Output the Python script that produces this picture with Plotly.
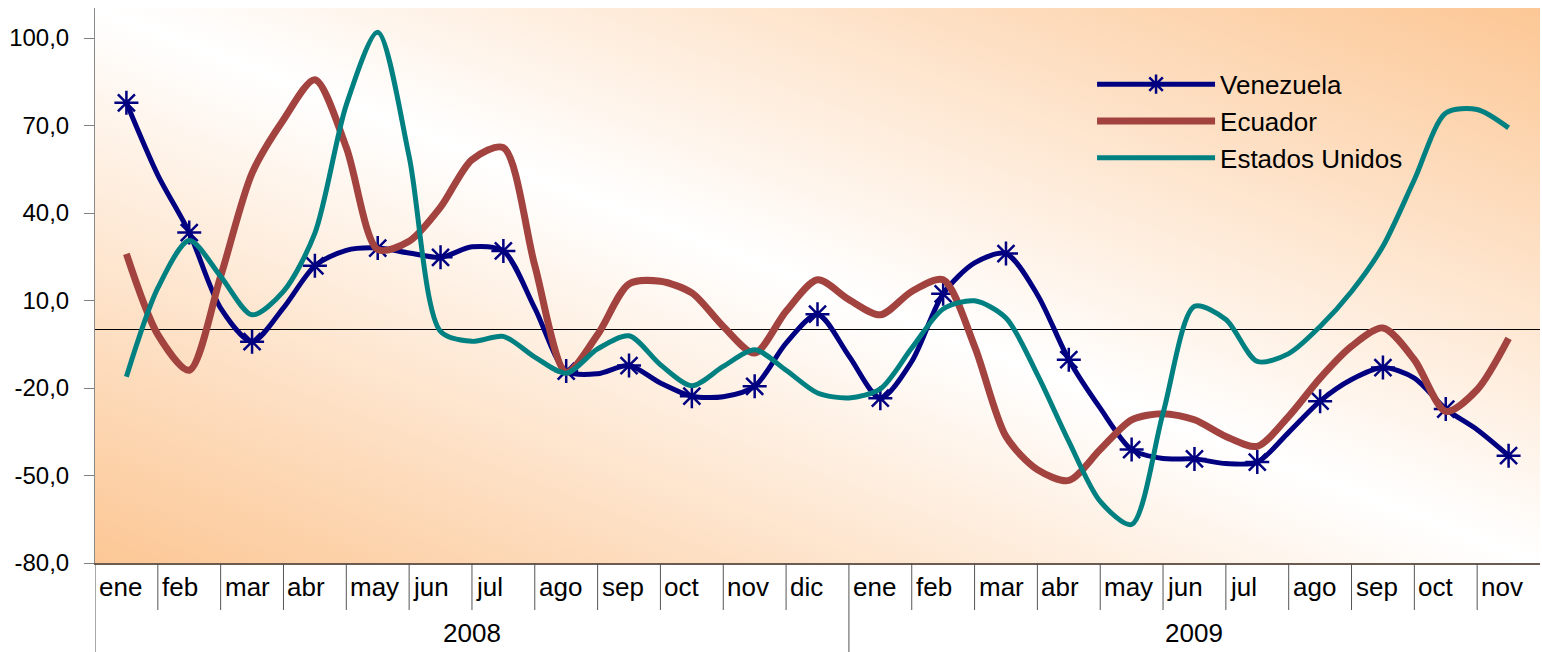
import base64
import plotly.graph_objects as go

# Month positions (category index, half-month steps): 0 = ene 2008 ... 22 = nov 2009
x_pos = [i / 2 for i in range(45)]

venezuela = [77.8, 53.0, 33.3, 7.4, -4.1, 7.5, 21.9, 27.2, 28.0, 26.3, 24.8, 28.4,
             27.0, 7.4, -14.2, -15.1, -12.3, -18.3, -22.8, -23.0, -19.4, -4.6, 5.3,
             -9.0, -23.5, -10.9, 12.3, 22.9, 26.1, 12.0, -10.3, -26.9, -41.1, -44.2,
             -44.3, -45.9, -45.4, -35.2, -24.5, -17.1, -13.0, -16.6, -27.2, -34.3, -43.2]

ecuador = [26.0, -1.7, -13.9, 18.3, 53.7, 72.0, 85.7, 62.5, 27.5, 30.3, 42.0, 58.3,
           62.4, 22.0, -14.6, -1.7, 15.7, 16.6, 12.6, 1.1, -8.0, 6.3, 17.1,
           10.3, 5.1, 13.1, 17.1, -5.7, -36.6, -48.0, -51.7, -41.1, -30.9, -28.8,
           -30.9, -36.6, -40.0, -29.7, -16.6, -5.7, 0.6, -10.3, -28.0, -20.6, -3.0]

estados_unidos = [-16.1, 14.3, 30.6, 18.3, 5.1, 13.1, 33.1, 77.1, 102.0, 59.4, -0.6, -4.0,
                  -2.3, -9.4, -14.9, -6.6, -2.1, -12.0, -19.2, -12.6, -6.9, -13.9, -21.7,
                  -23.4, -20.3, -6.3, 7.1, 9.9, 4.0, -15.4, -38.3, -58.9, -66.8, -28.6,
                  8.0, 3.5, -10.9, -8.2, 1.1, 13.1, 28.6, 51.4, 74.3, 75.5, 69.2]

months_2008 = ["ene", "feb", "mar", "abr", "may", "jun", "jul", "ago", "sep", "oct", "nov", "dic"]
months_2009 = ["ene", "feb", "mar", "abr", "may", "jun", "jul", "ago", "sep", "oct", "nov"]
years = ["2008", "2009"]
y_ticks = [-80, -50, -20, 10, 40, 70, 100]
y_tick_text = [f"{v:.1f}".replace(".", ",") for v in y_ticks]

month_labels = months_2008 + months_2009
n_cat = len(month_labels)

FONT = "Liberation Sans, Arial, sans-serif"
NAVY = "#000080"
BROWN = "#A3433F"
TEAL = "#008080"

fig = go.Figure()

# markers only on the whole-month points of the Venezuela series
is_month = [float(v).is_integer() for v in x_pos]
vz_colors = [NAVY if m else "rgba(0,0,0,0)" for m in is_month]

fig.add_trace(go.Scatter(
    x=x_pos, y=venezuela, name="Venezuela", mode="lines+markers",
    line=dict(color=NAVY, width=5, shape="spline", smoothing=0.8),
    marker=dict(symbol="asterisk-open", size=20, color=vz_colors,
                line=dict(width=2.5, color=vz_colors)),
))
fig.add_trace(go.Scatter(
    x=x_pos, y=ecuador, name="Ecuador", mode="lines",
    line=dict(color=BROWN, width=7, shape="spline", smoothing=0.8),
))
fig.add_trace(go.Scatter(
    x=x_pos, y=estados_unidos, name="Estados Unidos", mode="lines",
    line=dict(color=TEAL, width=5, shape="spline", smoothing=0.8),
))

# diagonal peach-white-peach gradient behind the plot area
svg = (
    "<svg xmlns='http://www.w3.org/2000/svg' width='1445' height='555' "
    "viewBox='0 0 1 1' preserveAspectRatio='none'>"
    "<defs><linearGradient id='g' x1='0' y1='1' x2='1' y2='0'>"
    "<stop offset='0' stop-color='#FCC795'/>"
    "<stop offset='0.5' stop-color='#FFFFFF'/>"
    "<stop offset='1' stop-color='#FCC795'/>"
    "</linearGradient></defs>"
    "<rect x='0' y='0' width='1' height='1' fill='url(#g)'/></svg>"
)
bg_uri = "data:image/svg+xml;base64," + base64.b64encode(svg.encode()).decode()

fig.add_layout_image(dict(
    source=bg_uri, xref="paper", yref="paper", x=0, y=1, sizex=1, sizey=1,
    sizing="stretch", xanchor="left", yanchor="top", layer="below",
))

# category axis: month labels, separators and year groups
shapes = []
annotations = []
plot_h = 555.0
sep_short = -47 / plot_h
sep_long = -89 / plot_h
for i in range(n_cat):
    annotations.append(dict(
        x=i - 0.5, y=-24 / plot_h, xref="x", yref="paper", text=month_labels[i],
        showarrow=False, font=dict(family=FONT, size=26, color="black"),
        xanchor="left", yanchor="middle", xshift=2,
    ))
for i in range(1, n_cat):
    boundary = i - 0.5
    y_end = sep_long if i == len(months_2008) else sep_short
    shapes.append(dict(type="line", xref="x", yref="paper", x0=boundary, x1=boundary,
                       y0=0, y1=y_end, line=dict(color="#555555", width=1)))
shapes.append(dict(type="line", xref="x", yref="paper", x0=-0.5, x1=-0.5,
                   y0=0, y1=sep_long, line=dict(color="#555555", width=1)))

year_centers = [(len(months_2008) - 1) / 2,
                len(months_2008) + (len(months_2009) - 1) / 2]
for yr, xc in zip(years, year_centers):
    annotations.append(dict(
        x=xc, y=-70 / plot_h, xref="x", yref="paper", text=yr, showarrow=False,
        font=dict(family=FONT, size=26, color="black"), xanchor="center", yanchor="middle",
    ))

fig.update_layout(
    width=1542, height=652,
    margin=dict(l=95, r=2, t=8, b=89),
    paper_bgcolor="white",
    plot_bgcolor="rgba(0,0,0,0)",
    font=dict(family=FONT, size=24, color="black"),
    showlegend=True,
    legend=dict(
        x=0.69, y=0.905, xanchor="left", yanchor="top",
        bgcolor="rgba(0,0,0,0)", borderwidth=0,
        font=dict(family=FONT, size=26, color="black"),
        itemwidth=118, tracegroupgap=0,
    ),
    shapes=shapes,
    annotations=annotations,
    xaxis=dict(
        range=[-0.5, n_cat - 0.5], showticklabels=False, showgrid=False,
        zeroline=False, ticks="", showline=True, linecolor="#6B5B50", linewidth=2,
        mirror=False,
    ),
    yaxis=dict(
        range=[-80, 110.3], tickvals=y_ticks, ticktext=y_tick_text,
        ticks="outside", ticklen=10, tickcolor="#808080", tickwidth=1,
        ticklabelstandoff=10,
        showgrid=False, zeroline=True, zerolinecolor="black", zerolinewidth=1,
        showline=True, linecolor="#8A8A8A", linewidth=1,
        tickfont=dict(family=FONT, size=24, color="black"),
    ),
)

fig.write_html("out.html")
